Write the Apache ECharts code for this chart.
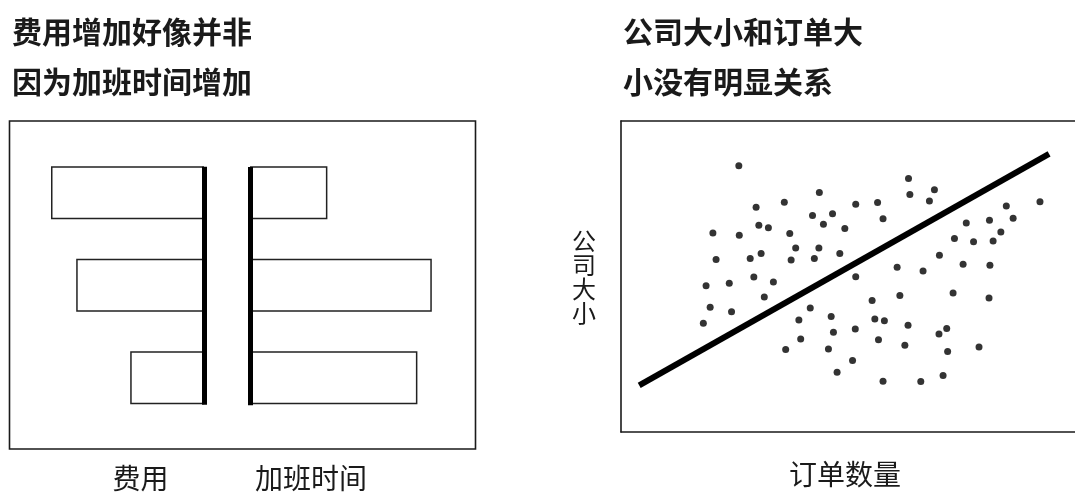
<!DOCTYPE html>
<html><head><meta charset="utf-8">
<script src="https://cdn.jsdelivr.net/npm/echarts@6/dist/echarts.min.js"></script>
<style>html,body{margin:0;padding:0;background:#fff}#c{width:1075px;height:493px}</style>
</head><body><div id="c"></div>
<script>
// ---- data ----
const barCategories = ['第一组', '第二组', '第三组'];
const costValues = [8.5, 7.1, 4.1];
const overtimeValues = [4.3, 10.1, 9.3];
const barAxisLabels = ['费用', '加班时间'];

const scatterX = [25.9,63.2,43.6,63.5,68.9,67.8,35.9,51.6,56.4,92.1,29.7,84.7,42.1,46.5,57.6,86.2,30.3,32.4,44.5,49.2,75.9,81.0,20.2,26.0,37.1,83.5,73.3,77.5,81.8,38.4,43.5,30.8,48.1,70.0,20.9,28.4,37.4,42.5,60.7,66.4,75.2,81.1,29.2,51.6,18.7,23.8,33.5,31.5,61.3,73.0,80.9,55.2,19.6,24.3,41.6,39.1,46.2,55.8,57.9,18.1,63.1,46.7,51.5,71.6,69.9,39.5,56.6,62.4,36.2,45.6,78.7,71.8,50.9,47.5,57.6,65.9,70.8];
const scatterY = [85.6,81.5,77.0,76.4,77.9,74.3,73.9,73.2,73.8,74.0,72.3,72.7,69.6,70.2,68.6,68.7,66.5,65.7,66.8,65.4,67.2,68.1,64.0,63.3,63.8,64.3,62.2,61.2,61.4,59.2,59.2,57.4,57.4,56.8,55.5,55.8,55.3,55.8,53.0,51.8,53.9,53.6,49.8,49.9,47.0,47.8,48.2,43.4,43.9,44.7,43.1,42.3,40.1,38.7,39.9,36.0,37.1,36.3,35.8,35.0,34.3,32.1,33.1,33.3,31.5,29.9,29.7,27.9,26.5,26.7,27.3,25.9,23.0,19.2,16.3,16.2,18.2];
const trendX = [4.0, 94.1];
const trendY = [15.0, 89.4];
const scatterAxisLabels = ['订单数量', '公司大小'];

const titleLeft = ['费用增加好像并非', '因为加班时间增加'];
const titleRight = ['公司大小和订单大', '小没有明显关系'];

// ---- chart ----
const FONT = '"Noto Sans CJK SC", "Noto Sans", sans-serif';
const INK = '#1a1a1a';
const FRAME = {color: '#1a1a1a', width: 1.6};
const chart = echarts.init(document.getElementById('c'), null, {renderer: 'canvas'});

const hiddenValue = (grid, extra) => Object.assign({
  type: 'value', gridIndex: grid, show: false, min: 0, max: 1
}, extra || {});

const spineAxis = (grid, pos) => ({
  type: 'value', gridIndex: grid, position: pos, min: 0, max: 1, z: 10,
  axisLine: {show: true, onZero: false, lineStyle: {color: '#000', width: 5, cap: 'butt'}},
  axisTick: {show: false}, axisLabel: {show: false}, splitLine: {show: false}
});

const titleText = (txt, x, y, size, weight) => ({
  type: 'text', x: x, y: y, silent: true,
  style: {text: txt, fill: INK, font: weight + ' ' + size + 'px ' + FONT,
          textAlign: 'left', textVerticalAlign: 'middle'}
});
const centerText = (txt, x, y, size, weight) => ({
  type: 'text', x: x, y: y, silent: true,
  style: {text: txt, fill: INK, font: weight + ' ' + size + 'px ' + FONT,
          textAlign: 'center', textVerticalAlign: 'middle'}
});

const option = {
  animation: false,
  backgroundColor: '#fff',
  grid: [
    {left: 24, top: 146.6, width: 180, height: 277.5},
    {left: 250, top: 146.6, width: 198, height: 277.5},
    {left: 199.5, top: 166.7, width: 5, height: 238},
    {left: 250.2, top: 167, width: 5, height: 238.3},
    {left: 621, top: 121, width: 454, height: 329}
  ],
  xAxis: [
    hiddenValue(0, {max: 10, inverse: true}),
    hiddenValue(1, {max: 11}),
    hiddenValue(2),
    hiddenValue(3),
    {type: 'value', gridIndex: 4, min: 0, max: 99.8, position: 'bottom',
     name: scatterAxisLabels[0], nameLocation: 'middle', nameGap: 28,
     nameTextStyle: {fontFamily: FONT, fontSize: 28, color: INK, fontWeight: 'normal', padding: [0, 6, 0, 0]},
     axisLine: {show: true, onZero: false, lineStyle: FRAME},
     axisTick: {show: false}, axisLabel: {show: false}, splitLine: {show: false}},
    {type: 'value', gridIndex: 4, min: 0, max: 99.8, position: 'top',
     axisLine: {show: true, onZero: false, lineStyle: FRAME},
     axisTick: {show: false}, axisLabel: {show: false}, splitLine: {show: false}}
  ],
  yAxis: [
    {type: 'category', gridIndex: 0, data: barCategories, inverse: true, show: false},
    {type: 'category', gridIndex: 1, data: barCategories, inverse: true, show: false},
    spineAxis(2, 'right'),
    spineAxis(3, 'left'),
    {type: 'value', gridIndex: 4, min: 0, max: 100, position: 'left',
     name: scatterAxisLabels[1].split('').join('\n'), nameLocation: 'middle', nameRotate: 0, nameGap: 25,
     nameTextStyle: {fontFamily: FONT, fontSize: 24, lineHeight: 24, color: INK, fontWeight: 'normal',
                     padding: [0, 0, 44, 0]},
     axisLine: {show: true, onZero: false, lineStyle: FRAME},
     axisTick: {show: false}, axisLabel: {show: false}, splitLine: {show: false}}
  ],
  series: [
    {type: 'bar', xAxisIndex: 0, yAxisIndex: 0, data: costValues, barWidth: 53,
     itemStyle: {color: '#fff', borderColor: '#222', borderWidth: 1.5}},
    {type: 'bar', xAxisIndex: 1, yAxisIndex: 1, data: overtimeValues, barWidth: 53,
     itemStyle: {color: '#fff', borderColor: '#222', borderWidth: 1.5}},
    {type: 'scatter', xAxisIndex: 4, yAxisIndex: 4, symbolSize: 7,
     itemStyle: {color: '#000'},
     data: scatterX.map((x, i) => [x, scatterY[i]])},
    {type: 'line', xAxisIndex: 4, yAxisIndex: 4, symbol: 'none',
     lineStyle: {color: '#000', width: 6, cap: 'butt'},
     data: trendX.map((x, i) => [x, trendY[i]])}
  ],
  graphic: [
    {type: 'rect', silent: true, shape: {x: 9.5, y: 121, width: 466, height: 328},
     style: {fill: 'none', stroke: '#1a1a1a', lineWidth: 1.6}},
    titleText(titleLeft[0], 12, 31.5, 30, 'bold'),
    titleText(titleLeft[1], 12, 82, 30, 'bold'),
    titleText(titleRight[0], 623, 31.5, 30, 'bold'),
    titleText(titleRight[1], 623, 82, 30, 'bold'),
    centerText(barAxisLabels[0], 140.5, 478, 28, 'normal'),
    centerText(barAxisLabels[1], 311, 478, 28, 'normal')
  ]
};
chart.setOption(option);
</script></body></html>
